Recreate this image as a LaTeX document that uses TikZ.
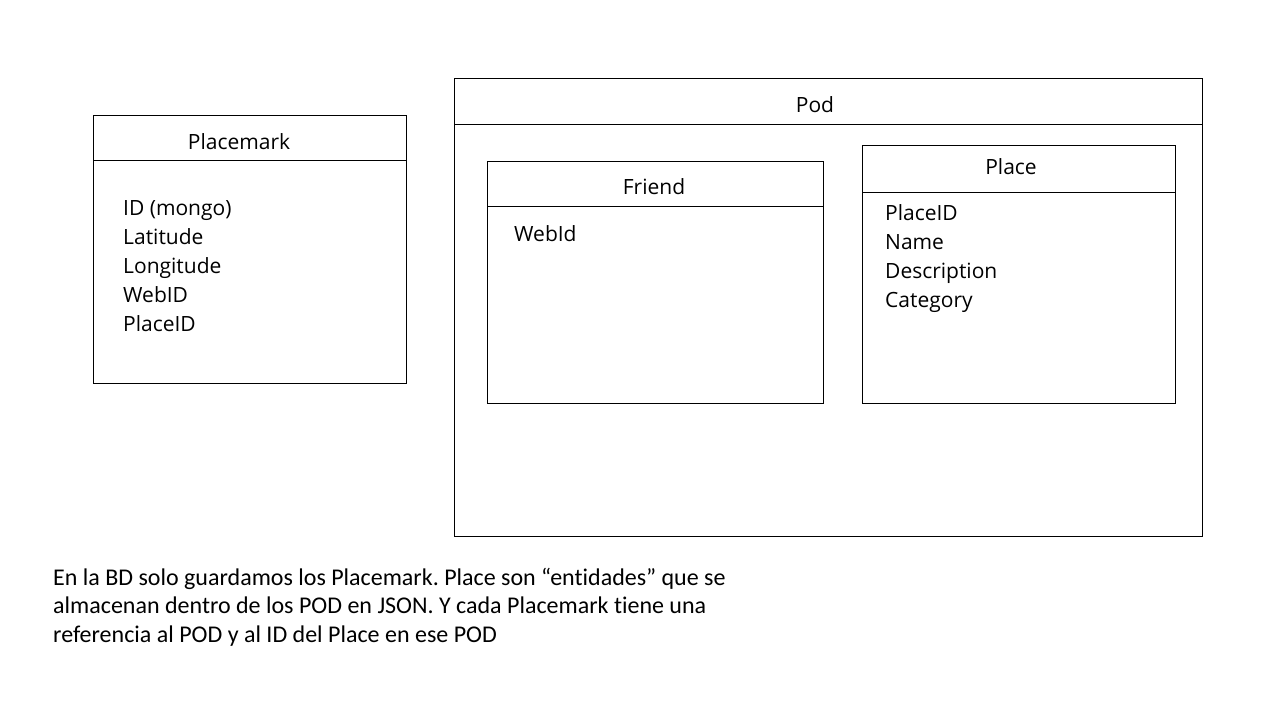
\documentclass[tikz,border=0pt]{standalone}
\usepackage{fontspec}
\setmainfont{Open Sans}
\newfontfamily\notefont[Ligatures=NoCommon]{Carlito}
\usetikzlibrary{positioning}
\frenchspacing

\begin{document}
\begin{tikzpicture}
        [x=1pt,y=-1pt,
          entity/.style={draw,line width=1pt,inner sep=0pt,anchor=north west},
          title/.style={font=\fontsize{21}{29}\selectfont,inner sep=0pt,anchor=base},
          field/.style={font=\fontsize{21}{29}\selectfont,inner sep=0pt,anchor=base west},
          note/.style={font=\notefont\fontsize{24}{28.5}\selectfont,inner sep=0pt,anchor=base west}]
        \useasboundingbox (0,0) rectangle (1280,720);

        % entidades
        \node[entity,minimum width=313pt,minimum height=268pt] (placemark) at (93,115) {};
        \node[entity,minimum width=748pt,minimum height=458pt] (pod) at (454,78) {};
        \node[entity,minimum width=336pt,minimum height=242pt] (friend) at (487,161) {};
        \node[entity,minimum width=313pt,minimum height=258pt] (place) at (862,145) {};

        \draw[line width=1pt]
        ([yshift=-45pt]placemark.north west) -- ([yshift=-45pt]placemark.north east)
        ([yshift=-46pt]pod.north west) -- ([yshift=-46pt]pod.north east)
        ([yshift=-45pt]friend.north west) -- ([yshift=-45pt]friend.north east)
        ([yshift=-47pt]place.north west) -- ([yshift=-47pt]place.north east);

        \node[title] (placemarktitle) at (239,149) {Placemark};
        \node[title] (podtitle) at (815,112) {Pod};
        \node[title] (friendtitle) at (654,194) {Friend};
        \node[title] (placetitle) at (1011,174) {Place};

        % atributos
        \foreach \txt [count=\i from 0] in {ID (mongo),Latitude,Longitude,WebID,PlaceID}
          \node[field] (pm\i) at (123,215+29*\i) {\txt};
        \node[field] (fr0) at (514,241) {WebId};
        \foreach \txt [count=\i from 0] in {PlaceID,Name,Description,Category}
          \node[field] (pl\i) at (885,220+29*\i) {\txt};

        % nota
        \node[note] (note1) at (53,585) {En la BD solo guardamos los Placemark. Place son “entidades” que se};
        \node[note] (note2) at (53,613.5) {almacenan dentro de los POD en JSON. Y cada Placemark tiene una};
        \node[note] (note3) at (53,642) {referencia al POD y al ID del Place en ese POD};

      \end{tikzpicture}
\end{document}
